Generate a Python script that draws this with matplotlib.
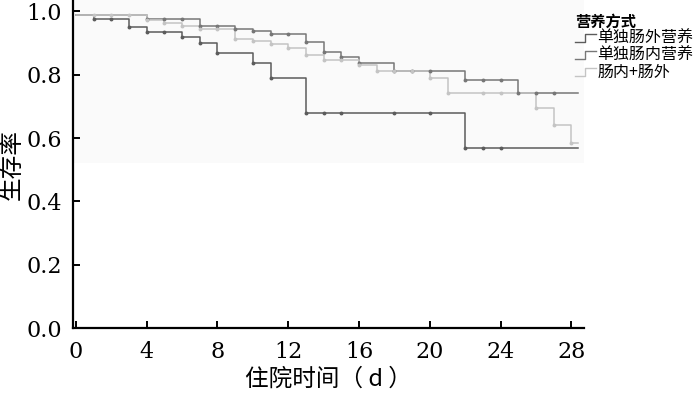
import matplotlib
matplotlib.use("Agg")
import matplotlib.pyplot as plt
import numpy as np
from matplotlib.legend_handler import HandlerBase
from matplotlib.lines import Line2D

plt.rcParams["font.family"] = ["DejaVu Serif", "Noto Sans CJK SC"]

CJK = ["Noto Sans CJK SC", "DejaVu Sans"]

# Kaplan-Meier steps (day, survival after the drop)
pn_times = [0, 1, 3, 4, 6, 7, 8, 10, 11, 13, 22]
pn_surv = [0.99, 0.977, 0.952, 0.936, 0.920, 0.901, 0.870, 0.836, 0.789, 0.680, 0.568]
pn_marks = [1, 2, 3, 4, 5, 6, 7, 8, 10, 11, 13, 14, 15, 18, 20, 22, 23, 24]

en_times = [0, 4, 7, 9, 10, 11, 13, 14, 15, 16, 18, 22, 25]
en_surv = [0.99, 0.976, 0.955, 0.946, 0.938, 0.929, 0.903, 0.873, 0.855, 0.836, 0.813, 0.783, 0.743]
en_marks = [4, 5, 6, 7, 8, 9, 10, 11, 12, 13, 14, 15, 16, 18, 19, 20, 22, 23, 24, 25, 26, 27]

mix_times = [0, 4, 5, 6, 7, 9, 10, 11, 12, 13, 14, 16, 17, 20, 21, 26, 27, 28]
mix_surv = [0.99, 0.974, 0.962, 0.955, 0.945, 0.913, 0.905, 0.896, 0.886, 0.863,
            0.847, 0.831, 0.813, 0.791, 0.742, 0.696, 0.641, 0.584]
mix_marks = [1, 2, 3, 4, 5, 6, 7, 8, 9, 10, 11, 12, 13, 14, 15, 16, 17, 18, 19,
             20, 21, 23, 24, 26, 27, 28]

end_day = 28.4

groups = [
    ("单独肠外营养", pn_times, pn_surv, pn_marks, "#5c5c5c"),
    ("单独肠内营养", en_times, en_surv, en_marks, "#777777"),
    ("肠内+肠外", mix_times, mix_surv, mix_marks, "#c4c4c4"),
]


class StepHandler(HandlerBase):
    def create_artists(self, legend, orig_handle, xdescent, ydescent,
                       width, height, fontsize, trans):
        x0 = -xdescent
        xs = [x0, x0 + 0.5 * width, x0 + 0.5 * width, x0 + width]
        ys = [0.1 * height, 0.1 * height, 0.75 * height, 0.75 * height]
        line = Line2D(xs, ys, color=orig_handle.get_color(), linewidth=1.0)
        line.set_transform(trans)
        return [line]


fig = plt.figure(figsize=(7, 3.93), dpi=100)
ax = fig.add_axes([0.104, 0.165, 0.73, 0.835])

ax.axhspan(0.52, 1.05, color="#fafafa", linewidth=0, zorder=0)

handles = []
for label, times, surv, marks, color in groups:
    xs = list(times) + [end_day]
    ys = list(surv) + [surv[-1]]
    (ln,) = ax.step(xs, ys, where="post", color=color, linewidth=1.1, label=label, zorder=2)
    idx = np.searchsorted(times, marks, side="right") - 1
    ax.plot(marks, np.asarray(surv)[idx], linestyle="none", marker="o",
            markersize=1.8, color=color, zorder=3)
    handles.append(ln)

ax.set_xlim(-0.17, 28.7)
ax.set_ylim(0, 1.036)
ax.set_xticks(np.arange(0, 29, 4))
ax.set_yticks(np.arange(0, 1.01, 0.2))
ax.set_yticklabels([f"{v:.1f}" for v in np.arange(0, 1.01, 0.2)])

for side in ("top", "right"):
    ax.spines[side].set_visible(False)
for side in ("left", "bottom"):
    ax.spines[side].set_linewidth(1.6)
    ax.spines[side].set_color("black")
ax.tick_params(direction="in", length=5, width=1.4, labelsize=16)
ax.tick_params(axis="x", pad=9)
ax.tick_params(axis="y", pad=8)

ax.set_xlabel("住院时间（ d ）", family=CJK, fontsize=17, labelpad=4)
ax.set_ylabel("生存率", family=CJK, fontsize=17, labelpad=2)

leg = fig.legend(
    handles,
    [g[0] for g in groups],
    title="营养方式",
    loc="upper left",
    bbox_to_anchor=(0.81, 0.985),
    frameon=False,
    handler_map={Line2D: StepHandler()},
    prop={"family": CJK, "size": 11.5},
    title_fontproperties={"family": CJK, "size": 11, "weight": "bold"},
    handlelength=1.3,
    handletextpad=0.1,
    labelspacing=0.0,
    borderpad=0.0,
    alignment="left",
)

fig.savefig("out.png", dpi=100)
